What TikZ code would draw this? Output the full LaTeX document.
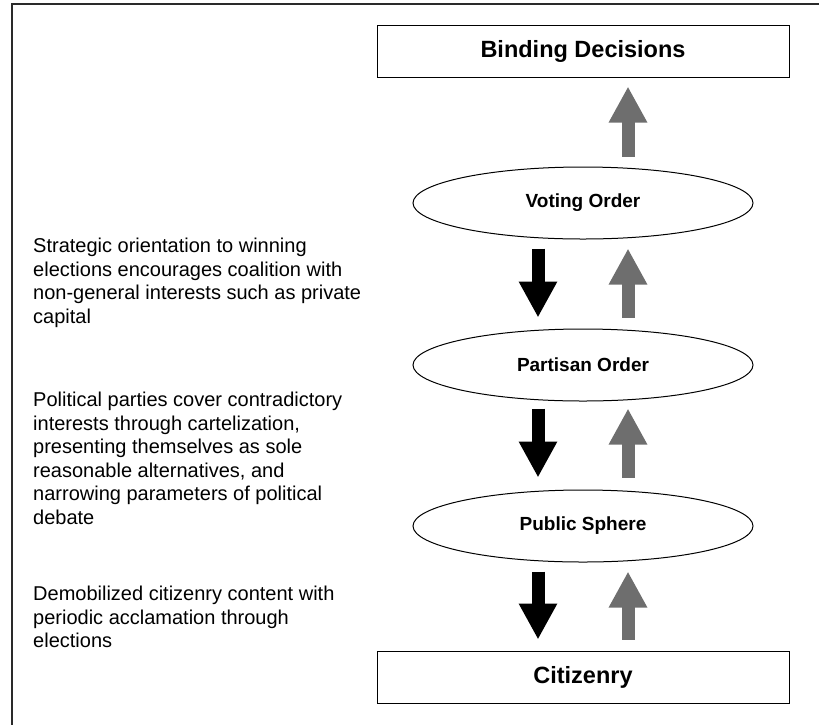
\documentclass[tikz,border=0pt]{standalone}
\usepackage{fontspec}
\setmainfont{Liberation Sans}
\usetikzlibrary{shapes.geometric,arrows.meta,calc}
\definecolor{upgray}{HTML}{6E6E6E}
\definecolor{framegray}{HTML}{2A2A2A}
\begin{document}
\begin{tikzpicture}[x=1pt,y=-1pt,
  box/.style={draw=black, line width=1pt, minimum width=412pt, minimum height=52pt, inner sep=0pt,
    font=\fontsize{23.5}{28}\selectfont\bfseries},
  oval/.style={ellipse, draw=black, line width=1pt, minimum width=340pt, minimum height=72pt, inner sep=0pt,
    font=\fontsize{19}{22}\selectfont\bfseries},
  note/.style={anchor=north west, align=left, inner sep=0pt, font=\fontsize{20}{23.5}\selectfont},
  uparrow/.style={line width=13pt, draw=upgray, -{Triangle[length=36pt,width=36pt]}},
  downarrow/.style={line width=13pt, draw=black, -{Triangle[length=36pt,width=36pt]}}]
\useasboundingbox (0,0) rectangle (819,724);
\draw[line width=1.4pt, draw=framegray] (12,740) -- (12,4) -- (840,4);

\node[box] (binding) at (583,51) {Binding Decisions};
\node[oval] (voting) at (583,203) {Voting Order};
\node[oval] (partisan) at (583,365) {Partisan Order};
\node[oval] (public) at (583,526) {Public Sphere};
\node[box] (citizenry) at (583,677) {Citizenry};

\draw[uparrow] ($(voting.north)+(45,-10)$) -- ($(binding.south)+(45,9)$);
\draw[uparrow] ($(partisan.north)+(45,-11)$) -- ($(voting.south)+(45,9)$);
\draw[uparrow] ($(public.north)+(45,-12)$) -- ($(partisan.south)+(45,7)$);
\draw[uparrow] ($(citizenry.north)+(45,-11)$) -- ($(public.south)+(45,9)$);

\draw[downarrow] ($(voting.south)+(-45,9)$) -- ($(partisan.north)+(-45,-11)$);
\draw[downarrow] ($(partisan.south)+(-45,7)$) -- ($(public.north)+(-45,-12)$);
\draw[downarrow] ($(public.south)+(-45,9)$) -- ($(citizenry.north)+(-45,-11)$);

\node[note] (n1) at (33,238) {Strategic orientation to winning\\elections encourages coalition with\\non-general interests such as private\\capital};
\node[note] (n2) at (33,392) {Political parties cover contradictory\\interests through cartelization,\\presenting themselves as sole\\reasonable alternatives, and\\narrowing parameters of political\\debate};
\node[note] (n3) at (33,586) {Demobilized citizenry content with\\periodic acclamation through\\elections};
\end{tikzpicture}
\end{document}
